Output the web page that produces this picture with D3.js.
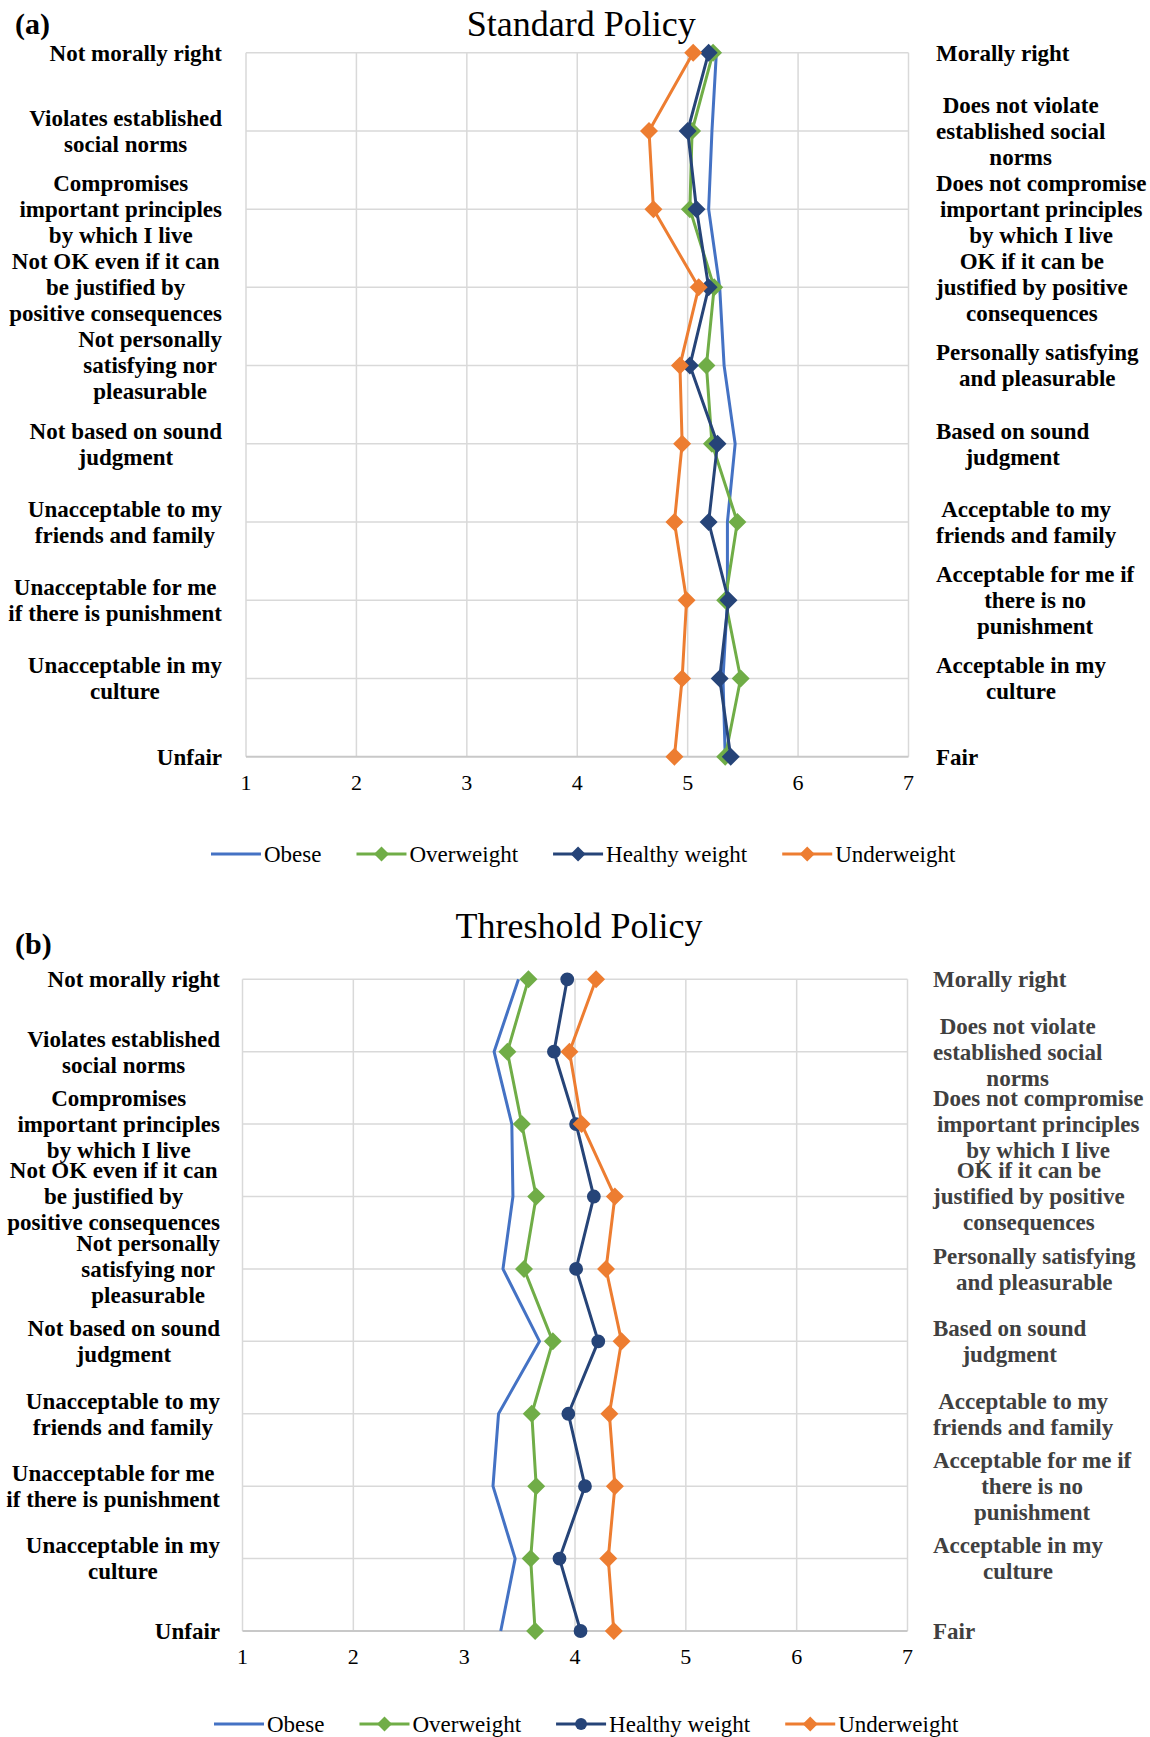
<!DOCTYPE html>
<html>
<head>
<meta charset="utf-8">
<script src="https://cdn.jsdelivr.net/npm/d3@7"></script>
<style>
  body { margin: 0; background: #fff; }
  svg text { font-family: "Liberation Serif", "Times New Roman", serif; }
</style>
</head>
<body>
<svg id="chart" width="1150" height="1737"></svg>
<script>
// categories (left = negative pole, right = positive pole)
var leftLabels = [
  ["Not morally right"],
  ["Violates established", "social norms"],
  ["Compromises", "important principles", "by which I live"],
  ["Not OK even if it can", "be justified by", "positive consequences"],
  ["Not personally", "satisfying nor", "pleasurable"],
  ["Not based on sound", "judgment"],
  ["Unacceptable to my", "friends and family"],
  ["Unacceptable for me", "if there is punishment"],
  ["Unacceptable in my", "culture"],
  ["Unfair"]
];
var rightLabels = [
  ["Morally right"],
  ["Does not violate", "established social", "norms"],
  ["Does not compromise", "important principles", "by which I live"],
  ["OK if it can be", "justified by positive", "consequences"],
  ["Personally satisfying", "and pleasurable"],
  ["Based on sound", "judgment"],
  ["Acceptable to my", "friends and family"],
  ["Acceptable for me if", "there is no", "punishment"],
  ["Acceptable in my", "culture"],
  ["Fair"]
];
var xTicks = [1, 2, 3, 4, 5, 6, 7];
var seriesNames = ["Obese", "Overweight", "Healthy weight", "Underweight"];

// (a) Standard Policy
var stdObese   = [5.26, 5.22, 5.19, 5.29, 5.33, 5.43, 5.36, 5.36, 5.32, 5.34];
var stdOver    = [5.23, 5.04, 5.02, 5.24, 5.17, 5.22, 5.45, 5.34, 5.48, 5.34];
var stdHealthy = [5.19, 5.00, 5.08, 5.19, 5.02, 5.27, 5.19, 5.37, 5.29, 5.39];
var stdUnder   = [5.05, 4.65, 4.69, 5.10, 4.93, 4.95, 4.88, 4.99, 4.95, 4.88];

// (b) Threshold Policy
var thrObese   = [3.49, 3.27, 3.43, 3.44, 3.35, 3.68, 3.31, 3.26, 3.46, 3.33];
var thrOver    = [3.58, 3.39, 3.52, 3.65, 3.54, 3.80, 3.61, 3.65, 3.60, 3.64];
var thrHealthy = [3.93, 3.81, 4.01, 4.17, 4.01, 4.21, 3.94, 4.09, 3.86, 4.05];
var thrUnder   = [4.19, 3.95, 4.06, 4.36, 4.28, 4.42, 4.31, 4.36, 4.30, 4.35];

var colors = {
  "Obese": "#4472C4",
  "Overweight": "#70AD47",
  "Healthy weight": "#264478",
  "Underweight": "#ED7D31"
};

var svg = d3.select("#chart");
var rows = d3.range(leftLabels.length);

function diamond(r) {
  return "M0," + (-r) + "L" + r + ",0L0," + r + "L" + (-r) + ",0Z";
}

function multiLabel(g, lines, x, yc, side, color) {
  var lh = 26, fs = 23;
  var t = g.append("g");
  var texts = lines.map(function(s, i) {
    return t.append("text")
      .attr("y", yc + (i - (lines.length - 1) / 2) * lh + fs * 0.34)
      .attr("text-anchor", "middle")
      .attr("font-size", fs)
      .attr("font-weight", "bold")
      .attr("fill", color)
      .text(s);
  });
  var w = d3.max(texts, function(tx) { return tx.node().getComputedTextLength(); });
  var cx = side == "left" ? x - w / 2 : x + w / 2;
  texts.forEach(function(tx) { tx.attr("x", cx); });
}

function drawPanel(p) {
  var g = svg.append("g");
  var x = d3.scaleLinear().domain([1, 7]).range([p.left, p.right]);
  var y = d3.scalePoint().domain(rows).range([p.top, p.bottom]);

  // vertical grid
  g.selectAll(".vg").data(xTicks).enter().append("line")
    .attr("x1", function(d) { return x(d); }).attr("x2", function(d) { return x(d); })
    .attr("y1", p.top).attr("y2", p.bottom)
    .attr("stroke", "#d9d9d9").attr("stroke-width", 1.5);
  // horizontal grid
  g.selectAll(".hg").data(rows).enter().append("line")
    .attr("x1", p.left).attr("x2", p.right)
    .attr("y1", function(d) { return y(d); }).attr("y2", function(d) { return y(d); })
    .attr("stroke", function(d) { return d == rows.length - 1 ? "#c8c8c8" : "#d9d9d9"; })
    .attr("stroke-width", function(d) { return d == rows.length - 1 ? 2 : 1.5; });

  // x tick labels
  g.selectAll(".tk").data(xTicks).enter().append("text")
    .attr("x", function(d) { return x(d); })
    .attr("y", p.bottom + 26 + 22 * 0.34)
    .attr("text-anchor", "middle")
    .attr("font-size", 22)
    .text(function(d) { return d; });

  // row labels
  rows.forEach(function(i) {
    multiLabel(g, leftLabels[i], p.leftLabelX, y(i), "left", "#000");
    multiLabel(g, rightLabels[i], p.rightLabelX, y(i), "right", p.rightColor);
  });

  // series
  var line = d3.line()
    .x(function(d) { return x(d); })
    .y(function(d, i) { return y(i); });

  p.series.forEach(function(s) {
    var c = colors[s.name];
    g.append("path").datum(s.values)
      .attr("d", line)
      .attr("fill", "none")
      .attr("stroke", c)
      .attr("stroke-width", 3)
      .attr("stroke-linejoin", "round");
    if (s.marker == "none") return;
    g.selectAll(null).data(s.values).enter().append("path")
      .attr("transform", function(d, i) { return "translate(" + x(d) + "," + y(i) + ")"; })
      .attr("d", s.marker == "circle" ? d3.symbol().type(d3.symbolCircle).size(150)() : diamond(9))
      .attr("fill", c);
  });

  // title and panel tag
  g.append("text")
    .attr("x", (p.left + p.right) / 2 + 4)
    .attr("y", p.titleY)
    .attr("text-anchor", "middle")
    .attr("font-size", 36)
    .text(p.title);
  g.append("text")
    .attr("x", 15)
    .attr("y", p.tagY)
    .attr("font-size", 30)
    .attr("font-weight", "bold")
    .text(p.tag);

  // legend
  var lx = p.legendX;
  p.series.forEach(function(s) {
    var c = colors[s.name];
    var it = g.append("g").attr("transform", "translate(" + lx + "," + p.legendY + ")");
    it.append("line").attr("x1", 0).attr("x2", 50).attr("y1", 0).attr("y2", 0)
      .attr("stroke", c).attr("stroke-width", 3);
    if (s.marker != "none") {
      it.append("path").attr("transform", "translate(25,0)")
        .attr("d", s.marker == "circle" ? d3.symbol().type(d3.symbolCircle).size(110)() : diamond(7.5))
        .attr("fill", c);
    }
    var tx = it.append("text").attr("x", 53).attr("y", 23 * 0.34)
      .attr("font-size", 23).text(s.name);
    lx += 53 + tx.node().getComputedTextLength() + 35;
  });
}

drawPanel({
  title: "Standard Policy", tag: "(a)",
  left: 246, right: 908.5, top: 52.7, bottom: 756.7,
  titleY: 36, tagY: 34,
  leftLabelX: 222, rightLabelX: 936, rightColor: "#000",
  legendX: 211, legendY: 854,
  series: [
    { name: seriesNames[0], values: stdObese, marker: "none" },
    { name: seriesNames[1], values: stdOver, marker: "diamond" },
    { name: seriesNames[2], values: stdHealthy, marker: "diamond" },
    { name: seriesNames[3], values: stdUnder, marker: "diamond" }
  ]
});

drawPanel({
  title: "Threshold Policy", tag: "(b)",
  left: 242.5, right: 907.5, top: 979.3, bottom: 1631,
  titleY: 938, tagY: 954,
  leftLabelX: 220, rightLabelX: 933, rightColor: "#404040",
  legendX: 214, legendY: 1724,
  series: [
    { name: seriesNames[0], values: thrObese, marker: "none" },
    { name: seriesNames[1], values: thrOver, marker: "diamond" },
    { name: seriesNames[2], values: thrHealthy, marker: "circle" },
    { name: seriesNames[3], values: thrUnder, marker: "diamond" }
  ]
});
</script>
</body>
</html>
